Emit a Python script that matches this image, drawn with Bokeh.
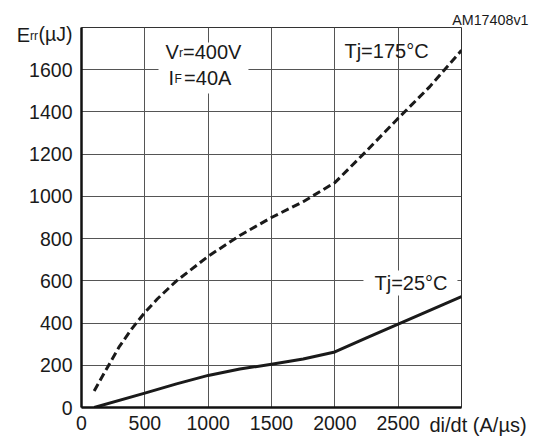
from bokeh.plotting import figure
from bokeh.models import FixedTicker, Label, BoxAnnotation, ColumnDataSource, Range1d
from bokeh.embed import file_html
from bokeh.resources import INLINE

# ---- data ----
x_ticks = [0, 500, 1000, 1500, 2000, 2500]
y_ticks = [0, 200, 400, 600, 800, 1000, 1200, 1400, 1600]
x_grid = [500, 1000, 1500, 2000, 2500]
y_grid = [200, 400, 600, 800, 1000, 1200, 1400, 1600]
y_unit_pos = 1770          # where the "(µJ)" unit text sits next to the y axis
y_unit_text = "(µJ)"

didt_175 = [100, 200, 300, 400, 500, 600, 750, 1000, 1250, 1500, 1750, 2000, 2250, 2500, 2750, 3000]
err_175 = [78, 185, 290, 375, 450, 515, 600, 716, 815, 900, 975, 1065, 1215, 1370, 1520, 1692]

didt_25 = [100, 500, 750, 1000, 1250, 1500, 1750, 2000, 2250, 2500, 2750, 3000]
err_25 = [0, 68, 112, 152, 182, 205, 230, 263, 330, 395, 460, 525]

W, H = 539, 437
FONT = "Liberation Sans"
INK = "#1a1a1a"

p = figure(width=W, height=H, x_range=Range1d(0, 3000), y_range=Range1d(0, 1800),
           output_backend="svg", toolbar_location=None,
           min_border_left=81, min_border_right=78, min_border_top=27, min_border_bottom=30)
p.background_fill_color = "white"
p.border_fill_color = "white"
p.outline_line_color = "#333333"
p.outline_line_width = 1

for ax in (p.xaxis, p.yaxis):
    ax.major_tick_line_color = None
    ax.minor_tick_line_color = None
    ax.major_tick_in = 0
    ax.major_tick_out = 0
    ax.axis_line_width = 2.5
    ax.axis_line_color = "#111111"
    ax.major_label_text_font = FONT
    ax.major_label_text_font_size = "19.5px"
    ax.major_label_text_color = INK
p.xaxis.ticker = FixedTicker(ticks=x_ticks)
p.yaxis.ticker = FixedTicker(ticks=y_ticks + [y_unit_pos])
p.yaxis.major_label_overrides = {y_unit_pos: y_unit_text}
p.xaxis.major_label_standoff = 8
p.yaxis.major_label_standoff = 9

p.xgrid.ticker = FixedTicker(ticks=x_grid)
p.ygrid.ticker = FixedTicker(ticks=y_grid)
for g in (p.xgrid, p.ygrid):
    g.grid_line_color = "#555555"
    g.grid_line_width = 1

src175 = ColumnDataSource(dict(x=didt_175, y=err_175))
src25 = ColumnDataSource(dict(x=didt_25, y=err_25))
p.line("x", "y", source=src175, line_width=3, line_color=INK, line_dash="8 4", line_join="round")
p.line("x", "y", source=src25, line_width=3, line_color=INK, line_join="round")

# white boxes behind annotations
p.add_layout(BoxAnnotation(left=608, right=1318, bottom=1487, top=1729,
                           fill_color="white", fill_alpha=1, line_color=None))
p.add_layout(BoxAnnotation(left=2226, right=2968, bottom=531, top=649,
                           fill_color="white", fill_alpha=1, line_color=None))


def dlab(x, y, text, size, align="left"):
    p.add_layout(Label(x=x, y=y, text=text, text_font=FONT, text_font_size=size,
                       text_color=INK, text_align=align, text_baseline="alphabetic"))


def clab(px, py, text, size, align, side):
    # canvas-pixel placed text, hosted in a side panel so it is not clipped to the frame
    p.add_layout(Label(x=px, y=py, x_units="canvas", y_units="canvas",
                       text=text, text_font=FONT, text_font_size=size,
                       text_color=INK, text_align=align, text_baseline="alphabetic"), side)


# y-axis title E_rr (the "(µJ)" part is a tick label of the y axis)
clab(37.5, 35.5, "rr", "12px", "right", "left")
clab(29.5, 34, "E", "20px", "right", "left")

# x-axis title
clab(429, 424, "di/dt (A/µs)", "20px", "left", "above")

# figure id
clab(528, 19.5, "AM17408v1", "14.3px", "right", "right")

# conditions (data coordinates)
dlab(663, 1682, "V", "20px")
dlab(770, 1677, "r", "12px")
dlab(801, 1682, "=400V", "20px")
dlab(687, 1563, "I", "20px")
dlab(734, 1558, "F", "12px")
dlab(810, 1563, "=40A", "20px")

dlab(2076, 1687, "Tj=175°C", "20px")
dlab(2313, 592, "Tj=25°C", "20px")

open("out.html", "w").write(file_html(p, INLINE))
